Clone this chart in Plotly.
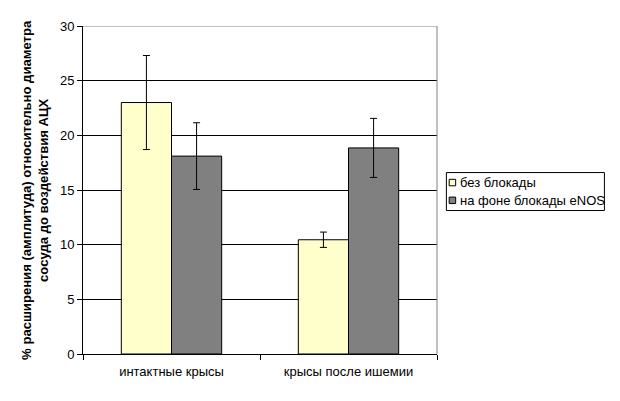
import plotly.graph_objects as go

categories = ["интактные крысы", "крысы после ишемии"]
series_names = ["без блокады", "на фоне блокады eNOS"]
series_colors = ["#FFFFCC", "#808080"]
values_no_block = [23.0, 10.45]
errors_no_block = [4.3, 0.7]
values_enos = [18.1, 18.85]
errors_enos = [3.05, 2.7]
y_ticks = [0, 5, 10, 15, 20, 25, 30]
y_title = "% расширения (амплитуда) относительно диаметра<br>сосуда до воздействия АЦХ"

FONT = "Liberation Sans, Arial, sans-serif"

# page layout (the page body adds an 8px offset)
W, H = 612, 393
PL, PR, PT, PB = 82.7, 437.3, 26.0, 354.3   # plot area in page pixels
OFF = 8


def px(xp):
    return (xp - PL) / (PR - PL)


def py(yp):
    return (PB - yp) / (PB - PT)


fig = go.Figure()
for name, color, vals, errs in [
    (series_names[0], series_colors[0], values_no_block, errors_no_block),
    (series_names[1], series_colors[1], values_enos, errors_enos),
]:
    fig.add_trace(go.Bar(
        name=name, x=categories, y=vals, showlegend=False,
        marker=dict(color=color, line=dict(color="black", width=1)),
        error_y=dict(type="data", array=errs, color="black", thickness=1, width=3.5),
    ))

shapes = [
    dict(type="line", xref="paper", yref="y", x0=0, x1=1, y0=30, y1=30,
         line=dict(color="#808080", width=1), layer="above"),
    dict(type="line", xref="paper", yref="y", x0=1, x1=1, y0=0, y1=30,
         line=dict(color="#808080", width=1), layer="above"),
    # legend box
    dict(type="rect", xref="paper", yref="paper",
         x0=px(446.7), x1=px(605), y0=py(210.7), y1=py(172.7),
         line=dict(color="black", width=1), fillcolor="white", layer="above"),
]
annotations = [
    dict(text="<b>" + y_title + "</b>", xref="paper", yref="paper",
         x=px(34.5), y=0.5, xanchor="center", yanchor="middle",
         textangle=-90, showarrow=False,
         font=dict(family=FONT, size=13.1, color="black")),
]
item_centers = [182.7, 200.5]
for name, color, yc in zip(series_names, series_colors, item_centers):
    shapes.append(dict(type="rect", xref="paper", yref="paper",
                       x0=px(449.5), x1=px(456), y0=py(yc + 3.25), y1=py(yc - 3.25),
                       line=dict(color="black", width=1), fillcolor=color, layer="above"))
    annotations.append(dict(text=name, xref="paper", yref="paper",
                            x=px(458), y=py(yc), xanchor="left", yanchor="middle",
                            showarrow=False, font=dict(family=FONT, size=13, color="black")))

fig.update_layout(
    width=W, height=H,
    margin=dict(l=PL - OFF, r=W - (PR - OFF), t=PT - OFF, b=H - (PB - OFF), autoexpand=False),
    paper_bgcolor="white", plot_bgcolor="white",
    barmode="group", bargap=0.433, bargroupgap=0,
    font=dict(family=FONT, size=13, color="black"),
    showlegend=False,
    xaxis=dict(
        type="category", tickson="boundaries", ticks="outside", ticklen=5,
        tickcolor="black", showline=True, linecolor="black", linewidth=1,
        showgrid=False, tickfont=dict(size=13), ticklabelstandoff=5,
    ),
    yaxis=dict(
        range=[0, 30], tickvals=y_ticks, ticks="outside", ticklen=5,
        tickcolor="black", showline=True, linecolor="black", linewidth=1,
        showgrid=True, gridcolor="black", gridwidth=1, zeroline=False,
        tickfont=dict(size=13),
    ),
    shapes=shapes,
    annotations=annotations,
)

fig.write_html("out.html")
